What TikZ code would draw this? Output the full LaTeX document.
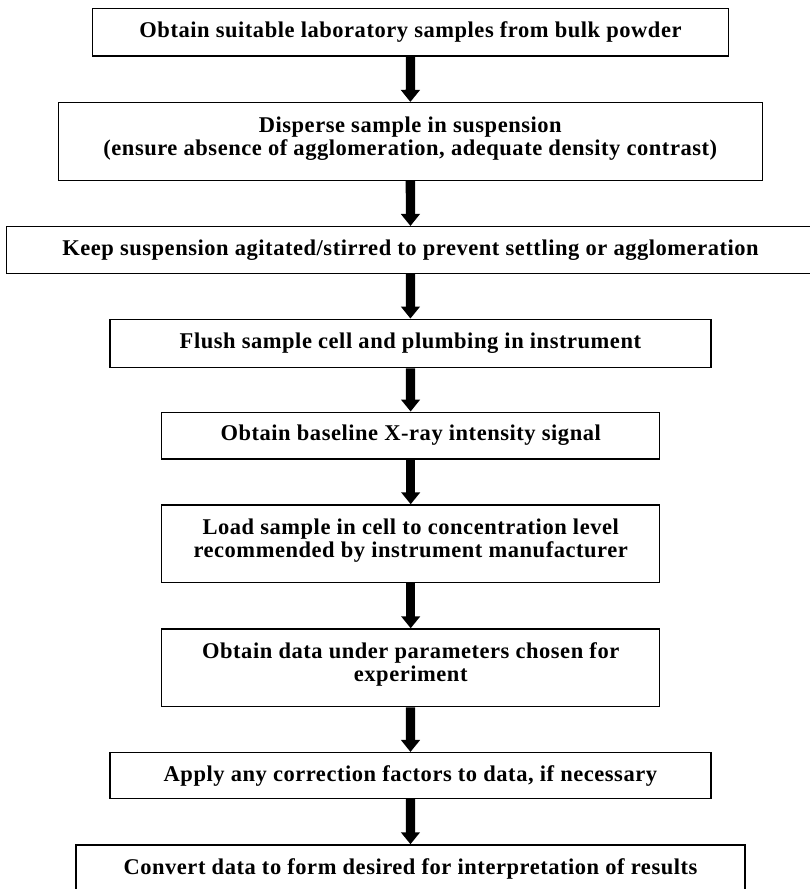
\documentclass[tikz,border=0pt]{standalone}
\usepackage{fontspec}
\setmainfont{Liberation Serif}[LetterSpace=2.4]
\usetikzlibrary{arrows.meta}
\begin{document}
\begin{tikzpicture}[x=1pt,y=-1pt,
  box/.style={draw, line width=1.5pt, inner sep=0pt, align=center,
    font=\bfseries\fontsize{22.5}{23}\selectfont},
  txt/.style={inner sep=0pt, align=center,
    font=\bfseries\fontsize{22.5}{23}\selectfont},
  flow/.style={line width=9.3pt, -{Triangle[width=18.5pt,length=12pt]}}]
\useasboundingbox (0,0) rectangle (809,889);
\node[box, minimum width=635.6pt, minimum height=47.7pt] (b1) at (410.5,32.15)
  {Obtain suitable laboratory samples from bulk powder};
\node[box, minimum width=704pt, minimum height=77.6pt] (b2) at (410.3,141.5) {};
\node[txt] (t2) at ([yshift=3pt]b2.center)
  {Disperse sample in suspension\\(ensure absence of agglomeration, adequate density contrast)};
\node[box, minimum width=807.6pt, minimum height=46.6pt] (b3) at (410.5,250)
  {Keep suspension agitated/stirred to prevent settling or agglomeration};
\node[box, minimum width=600.7pt, minimum height=48.4pt] (b4) at (410.4,343.5)
  {Flush sample cell and plumbing in instrument};
\node[box, minimum width=498pt, minimum height=46.7pt] (b5) at (410.7,435.65)
  {Obtain baseline X-ray intensity signal};
\node[box, minimum width=498pt, minimum height=77.7pt] (b6) at (410.7,543.85) {};
\node[txt] (t6) at ([yshift=3pt]b6.center)
  {Load sample in cell to concentration level\\recommended by instrument manufacturer};
\node[box, minimum width=498pt, minimum height=77.7pt] (b7) at (410.7,667.85) {};
\node[txt] (t7) at ([yshift=3pt]b7.center)
  {Obtain data under parameters chosen for\\experiment};
\node[box, minimum width=600.7pt, minimum height=45.6pt] (b8) at (410.4,775.5)
  {Apply any correction factors to data, if necessary};
\node[box, minimum width=669pt, minimum height=48pt] (b9) at (410.5,869)
  {Convert data to form desired for interpretation of results};
\foreach \a/\b in {b1/b2,b2/b3,b3/b4,b4/b5,b5/b6,b6/b7,b7/b8,b8/b9}
  \draw[flow] (\a) -- (\b);
\end{tikzpicture}
\end{document}
